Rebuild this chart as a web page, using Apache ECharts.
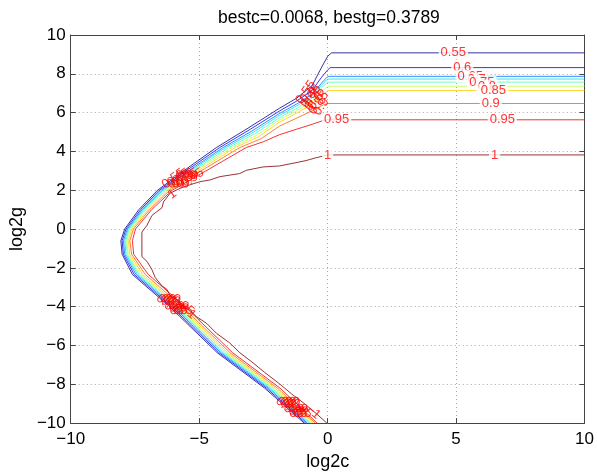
<!DOCTYPE html>
<html><head><meta charset="utf-8">
<script src="https://cdn.jsdelivr.net/npm/echarts@6.0.0/dist/echarts.min.js"></script>
<style>html,body{margin:0;padding:0;background:#fff}#c{width:597px;height:476px}</style>
</head><body><div id="c"></div>
<script>
// ---- data ----
const titleText = 'bestc=0.0068, bestg=0.3789';
const xTicks = [-10, -5, 0, 5, 10];
const yTicks = [-10, -8, -6, -4, -2, 0, 2, 4, 6, 8, 10];
const levels = [0.55, 0.6, 0.65, 0.7, 0.75, 0.8, 0.85, 0.9, 0.95, 1];

const c055 = [[10,9.08],[0.15,9.08],[0,8.9],[-0.25,8.3],[-0.6,7.4],[-1.2,6.75],[-1.88,6.22],[-3.1,5.2],[-4.33,4.2],[-5.5,3.1],[-6.62,2.0],[-7.35,1.0],[-7.9,0],[-8.05,-0.6],[-8.0,-1.3],[-7.6,-2.34],[-6.15,-4.0],[-4.3,-6.37],[-2.45,-8.2],[-0.91,-10]];
const c060 = [[10,8.32],[0.1,8.32],[0,8.2],[-0.25,7.8],[-0.6,7.15],[-1.2,6.6],[-1.88,6.08],[-3.0,5.15],[-4.2,4.2],[-5.4,3.1],[-6.55,2.0],[-7.28,1.0],[-7.85,0],[-8.0,-0.6],[-7.95,-1.3],[-7.53,-2.34],[-6.08,-4.0],[-4.23,-6.37],[-2.38,-8.2],[-0.85,-10]];
const c065 = [[10,7.87],[0.05,7.87],[-0.05,7.8],[-0.25,7.5],[-0.6,6.95],[-1.2,6.45],[-1.88,5.95],[-2.95,5.05],[-4.07,4.2],[-5.3,3.1],[-6.48,2.0],[-7.22,1.0],[-7.8,0],[-7.95,-0.6],[-7.9,-1.3],[-7.46,-2.34],[-6.01,-4.0],[-4.16,-6.37],[-2.31,-8.2],[-0.79,-10]];
const c070 = [[10,7.73],[0.05,7.73],[-0.05,7.68],[-0.25,7.4],[-0.6,6.85],[-1.2,6.35],[-1.88,5.85],[-2.9,4.98],[-3.97,4.2],[-5.22,3.1],[-6.42,2.0],[-7.17,1.0],[-7.76,0],[-7.9,-0.6],[-7.85,-1.3],[-7.4,-2.34],[-5.95,-4.0],[-4.1,-6.37],[-2.25,-8.2],[-0.73,-10]];
const c075 = [[10,7.57],[0.05,7.57],[-0.05,7.52],[-0.25,7.25],[-0.6,6.75],[-1.2,6.22],[-1.88,5.73],[-2.85,4.9],[-3.85,4.2],[-5.13,3.1],[-6.36,2.0],[-7.12,1.0],[-7.72,0],[-7.86,-0.6],[-7.8,-1.3],[-7.34,-2.34],[-5.89,-4.0],[-4.03,-6.37],[-2.18,-8.2],[-0.67,-10]];
const c080 = [[10,7.36],[0.05,7.36],[-0.05,7.3],[-0.25,7.05],[-0.6,6.6],[-1.2,6.1],[-1.88,5.62],[-2.78,4.82],[-3.73,4.2],[-5.04,3.1],[-6.3,2.0],[-7.07,1.0],[-7.68,0],[-7.82,-0.6],[-7.76,-1.3],[-7.27,-2.34],[-5.82,-4.0],[-3.96,-6.37],[-2.11,-8.2],[-0.61,-10]];
const c085 = [[10,7.14],[0.05,7.14],[-0.05,7.08],[-0.25,6.85],[-0.6,6.45],[-1.2,5.98],[-1.88,5.5],[-2.7,4.75],[-3.6,4.2],[-4.93,3.1],[-6.23,2.0],[-7.0,1.0],[-7.62,0],[-7.76,-0.6],[-7.7,-1.3],[-7.2,-2.34],[-5.75,-4.0],[-3.89,-6.37],[-2.04,-8.2],[-0.55,-10]];
const c090 = [[10,6.47],[0.05,6.47],[-0.05,6.45],[-0.25,6.35],[-0.6,6.1],[-1.2,5.72],[-1.88,5.3],[-2.6,4.65],[-3.42,4.2],[-4.8,3.1],[-6.15,2.0],[-6.93,1.0],[-7.56,0],[-7.7,-0.6],[-7.63,-1.3],[-7.1,-2.34],[-5.66,-4.0],[-3.8,-6.37],[-1.95,-8.2],[-0.48,-10]];
const c095 = [[10,5.63],[0,5.63],[-0.2,5.58],[-0.6,5.4],[-1.2,5.15],[-1.88,4.86],[-2.5,4.5],[-3.17,4.2],[-4.6,3.1],[-6.05,2.0],[-6.85,1.0],[-7.48,0],[-7.6,-0.6],[-7.55,-1.3],[-6.98,-2.34],[-5.55,-4.0],[-3.7,-6.37],[-1.85,-8.2],[-0.41,-10]];
const c100 = [[10,3.82],[0,3.82],[-0.46,3.67],[-0.84,3.53],[-1.23,3.42],[-1.88,3.25],[-2.52,3.2],[-3.16,3.03],[-3.42,2.86],[-4.2,2.7],[-4.58,2.53],[-4.97,2.44],[-5.36,2.28],[-5.74,2.1],[-6.13,1.85],[-6.39,1.4],[-6.45,1.1],[-6.84,0.7],[-7.03,0.2],[-7.23,-0.16],[-7.23,-1.42],[-7.03,-1.67],[-6.84,-2.09],[-6.71,-2.5],[-6.45,-2.93],[-6.26,-3.1],[-6.13,-3.43],[-5.81,-3.69],[-5.62,-4.02],[-5.36,-4.19],[-5.1,-4.52],[-4.71,-4.86],[-4.33,-5.37],[-3.81,-5.87],[-3.42,-6.37],[-2.9,-6.9],[-2.46,-7.38],[-1.9,-7.95],[-1.4,-8.5],[-0.9,-9.0],[-0.45,-9.5],[-0.03,-10]];
const contours = [c055, c060, c065, c070, c075, c080, c085, c090, c095, c100];

// inline labels on the horizontal parts of the contours
const hLabelX = [4.89, 5.24, 5.55, 5.8, 6.0, 6.2, 6.45, 6.35, 6.8, 0.35, 6.5, 0.0];
const hLabelY = [9.08, 8.32, 7.87, 7.73, 7.57, 7.36, 7.14, 6.47, 5.63, 5.63, 3.82, 3.82];
const hLabelText = ['0.55','0.6','0.65','0.7','0.75','0.8','0.85','0.9','0.95','0.95','1','1'];

// clustered labels along the slanted parts
const cLabelX = [-0.85,-0.75,-0.65,-0.6,-0.5,-0.45,-0.35,-0.25,
                 -6.0,-5.9,-5.8,-5.72,-5.64,-5.55,-5.46,-5.36,-5.26,-6.05,
                 -6.24,-6.17,-6.1,-6.04,-5.98,-5.91,-5.84,-5.75,-5.64,-5.3,
                 -1.59,-1.52,-1.45,-1.38,-1.31,-1.24,-1.17,-1.1,-1.02,-0.45];
const cLabelY = [7.05,6.95,6.85,6.75,6.7,6.6,6.5,6.3,
                 2.6,2.6,2.6,2.6,2.6,2.6,2.6,2.6,2.6,1.8,
                 -3.9,-3.9,-3.9,-3.9,-3.9,-3.9,-3.9,-3.9,-3.9,-4.4,
                 -9.2,-9.2,-9.2,-9.2,-9.2,-9.2,-9.2,-9.2,-9.2,-9.55];
const cLabelText = ['0.55','0.6','0.65','0.7','0.75','0.8','0.85','0.9',
                    '0.55','0.6','0.65','0.7','0.75','0.8','0.85','0.9','0.95','1',
                    '0.55','0.6','0.65','0.7','0.75','0.8','0.85','0.9','0.95','1',
                    '0.55','0.6','0.65','0.7','0.75','0.8','0.85','0.9','0.95','1'];
const cLabelAngle = [55,55,55,55,55,55,55,55,
                     37,37,37,37,37,37,37,37,37,37,
                     -41,-41,-41,-41,-41,-41,-41,-41,-41,-41,
                     -41,-41,-41,-41,-41,-41,-41,-41,-41,-41];

// ---- style ----
const jet = ['#00008f','#0000ff','#0070ff','#00dfff','#50ffaf','#bfff40','#ffcf00','#ff6000','#ef0000','#800000'];
const FONT = 'Liberation Sans, Arial, Helvetica, sans-serif';
const minus = v => String(v).replace('-', '\u2212');

const chart = echarts.init(document.getElementById('c'), null, {renderer: 'canvas'});

const lineSeries = contours.map((d, i) => ({
  type: 'line', name: String(levels[i]), data: d, showSymbol: false, symbol: 'none',
  lineStyle: {width: 1, color: jet[i], opacity: 0.8}, silent: true, animation: false, z: 2
}));

const hLabelSeries = {
  type: 'scatter', symbolSize: 1, itemStyle: {color: 'rgba(0,0,0,0)'}, silent: true, animation: false, z: 5,
  data: hLabelX.map((x, i) => ({value: [x, hLabelY[i]], name: hLabelText[i]})),
  label: {show: true, position: 'inside', formatter: '{b}', color: '#ff0000', fontSize: 13,
          fontFamily: FONT, backgroundColor: '#ffffff', padding: [0, 2]}
};
const cLabelSeries = {
  type: 'scatter', symbolSize: 1, itemStyle: {color: 'rgba(0,0,0,0)'}, silent: true, animation: false, z: 6,
  data: cLabelX.map((x, i) => ({value: [x, cLabelY[i]], name: cLabelText[i], label: {rotate: cLabelAngle[i]}})),
  label: {show: true, position: 'inside', formatter: '{b}', color: '#ff0000', fontSize: 13, fontFamily: FONT}
};

const axisCommon = {
  type: 'value', min: -10, max: 10,
  axisLine: {show: true, onZero: false, lineStyle: {color: '#444', width: 1}},
  axisTick: {show: true, inside: true, length: 5, lineStyle: {color: '#444'}},
};

chart.setOption({
  animation: false,
  backgroundColor: '#ffffff',
  grid: {left: 70, right: 10, top: 35, bottom: 44, containLabel: false},
  graphic: [{type: 'text', left: 218, top: 9,
    style: {text: titleText, font: '17.5px ' + FONT, fill: '#000'}}],
  xAxis: [
    Object.assign({}, axisCommon, {position: 'bottom', interval: 5,
      axisLabel: {fontSize: 17, color: '#000', margin: 8, fontFamily: FONT, formatter: minus},
      splitLine: {show: true, lineStyle: {color: '#aaa', type: [1, 3]}},
      name: 'log2c', nameLocation: 'middle', nameGap: 26,
      nameTextStyle: {fontSize: 18, color: '#000', fontFamily: FONT}}),
    Object.assign({}, axisCommon, {position: 'top', interval: 5, axisLabel: {show: false}, splitLine: {show: false}})
  ],
  yAxis: [
    Object.assign({}, axisCommon, {position: 'left', interval: 2,
      axisLabel: {fontSize: 17, color: '#000', margin: 5, fontFamily: FONT, formatter: minus},
      splitLine: {show: true, lineStyle: {color: '#aaa', type: [1, 3]}},
      name: 'log2g', nameLocation: 'middle', nameGap: 38, nameRotate: 90,
      nameTextStyle: {fontSize: 18, color: '#000', fontFamily: FONT}}),
    Object.assign({}, axisCommon, {position: 'right', interval: 2, axisLabel: {show: false}, splitLine: {show: false}})
  ],
  series: lineSeries.concat([hLabelSeries, cLabelSeries])
});
</script>
</body></html>
